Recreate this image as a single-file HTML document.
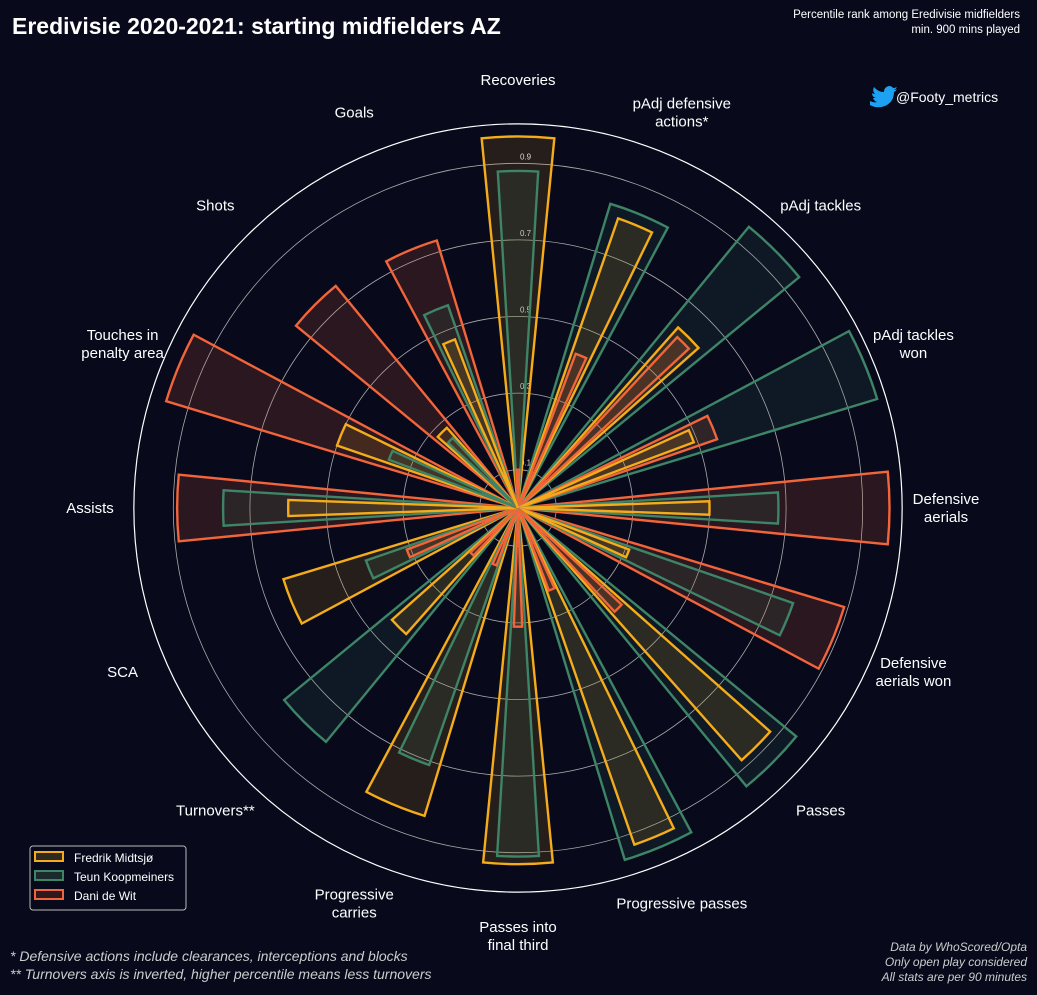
<!DOCTYPE html>
<html><head><meta charset="utf-8"><style>
body{margin:0;background:#080a1c;}
svg{display:block;font-family:"Gill Sans","Liberation Sans",sans-serif;}
</style></head><body>
<svg id="c" width="1037" height="995" viewBox="0 0 1037 995">
<rect width="1037" height="995" fill="#080a1c"/>
<text x="12" y="34" fill="#fff" font-size="23" font-weight="bold">Eredivisie 2020-2021: starting midfielders AZ</text>
<text x="1020" y="18" fill="#fff" font-size="11.5" text-anchor="end">Percentile rank among Eredivisie midfielders</text>
<text x="1020" y="33" fill="#fff" font-size="11.5" text-anchor="end">min. 900 mins played</text>
<g>
<path d="M870 101 q4 2 7 1 q-3-1-4-4 q2 0 3 0 q-4-1-4-5 q1 1 3 1 q-3-3-1-7 q4 5 10 5 q0-5 5-6 q3 0 4 2 q2 0 4-1 q-1 2-3 3 q2 0 3-1 q-1 2-3 3 q0 10-9 14 q-8 3-15-1z" fill="#1da1f2"/>
<text x="896" y="102" fill="#fff" font-size="14">@Footy_metrics</text>
</g>
<g id="grid"></g>
<g id="bars"></g>
<g id="labels"></g>
<g>
<rect x="30" y="846" width="156" height="64" rx="3" fill="#080a1c" stroke="#bbb" stroke-width="1"/>
<rect x="35" y="852" width="28" height="9" fill="#2e2a1f" stroke="#f5ac1b" stroke-width="2"/>
<text x="74" y="862" fill="#fff" font-size="12">Fredrik Midtsjø</text>
<rect x="35" y="871" width="28" height="9" fill="#1a2a2c" stroke="#3e8466" stroke-width="2"/>
<text x="74" y="881" fill="#fff" font-size="12">Teun Koopmeiners</text>
<rect x="35" y="890" width="28" height="9" fill="#2f1820" stroke="#f2643a" stroke-width="2"/>
<text x="74" y="900" fill="#fff" font-size="12">Dani de Wit</text>
</g>
<text x="10" y="961" fill="#ccc" font-size="14" font-style="italic">* Defensive actions include clearances, interceptions and blocks</text>
<text x="10" y="979" fill="#ccc" font-size="14" font-style="italic">** Turnovers axis is inverted, higher percentile means less turnovers</text>
<text x="1027" y="951" fill="#ccc" font-size="12" font-style="italic" text-anchor="end">Data by WhoScored/Opta</text>
<text x="1027" y="966" fill="#ccc" font-size="12" font-style="italic" text-anchor="end">Only open play considered</text>
<text x="1027" y="981" fill="#ccc" font-size="12" font-style="italic" text-anchor="end">All stats are per 90 minutes</text>
</svg>
<script>
const categories = [["Recoveries"],["pAdj defensive","actions*"],["pAdj tackles"],["pAdj tackles","won"],["Defensive","aerials"],["Defensive","aerials won"],["Passes"],["Progressive passes"],["Passes into","final third"],["Progressive","carries"],["Turnovers**"],["SCA"],["Assists"],["Touches in","penalty area"],["Shots"],["Goals"]];
const midtsjo = [0.97,0.80,0.63,0.49,0.50,0.31,0.88,0.93,0.93,0.84,0.44,0.64,0.60,0.50,0.28,0.47];
const koopmeiners = [0.88,0.83,0.95,0.98,0.68,0.76,0.94,0.96,0.91,0.71,0.79,0.42,0.77,0.36,0.25,0.56];
const dewit = [0.10,0.43,0.61,0.55,0.97,0.89,0.37,0.23,0.31,0.16,0.17,0.31,0.89,0.96,0.75,0.73];
const gridTicks = [0.1,0.3,0.5,0.7,0.9];
const tickLabels = ["0.1","0.3","0.5","0.7","0.9"];

const NS="http://www.w3.org/2000/svg";
const cx=518, cy=508, R=383;
const rScale=v=>v*R;
const aScale=i=>i*2*Math.PI/categories.length;
const halfByRank=[0.098,0.06,0.035];
function pt(r,a){return [cx+r*Math.sin(a), cy-r*Math.cos(a)];}
function mk(tag,attrs,parent){const e=document.createElementNS(NS,tag);for(const k in attrs)e.setAttribute(k,attrs[k]);parent.appendChild(e);return e;}
const grid=document.getElementById('grid');
gridTicks.forEach((t,i)=>{
  const c=mk('circle',{cx:cx,cy:cy,r:rScale(t),fill:'none',stroke:'#aaa','stroke-width':0.8},grid);
  
  
  const tx=mk('text',{x:cx+2,y:cy-rScale(t)-4,fill:'#ddd','font-size':8},grid);
  tx.textContent=tickLabels[i];
  
  
});
const oc=mk('circle',{cx:cx,cy:cy,r:rScale(1.003),fill:'none',stroke:'#fff','stroke-width':1.2},grid);


const bars=document.getElementById('bars');
const series=[[midtsjo,'#f5ac1b','rgba(245,172,27,0.13)','midtsjo'],[koopmeiners,'#3e8466','rgba(62,132,102,0.13)','koopmeiners'],[dewit,'#f2643a','rgba(242,100,58,0.15)','dewit']];
categories.forEach((_,i)=>{
  const order=series.map((s,k)=>k).sort((x,y)=>series[y][0][i]-series[x][0][i]);
  order.forEach((k,rank)=>{
    const [vals,col,fill,nm]=series[k];
    const a=aScale(i), r=rScale(vals[i]), half=halfByRank[rank];
    const p1=pt(r,a-half), p2=pt(r,a+half);
    const d=`M${cx},${cy} L${p1[0]},${p1[1]} A${r},${r} 0 0 1 ${p2[0]},${p2[1]} Z`;
    const b=mk('path',{d:d,fill:fill,stroke:col,'stroke-width':2.4,'stroke-linejoin':'miter'},bars);
    
    
  });
});
const labels=document.getElementById('labels');
categories.forEach((lines,i)=>{
  const a=aScale(i); const p=pt(428,a);
  const t=mk('text',{x:p[0],y:p[1]-(lines.length-1)*9+5,fill:'#fff','font-size':15,'text-anchor':'middle'},labels);
  
  
  lines.forEach((ln,j)=>{const s=mk('tspan',{x:p[0],dy:j?18:0},t);s.textContent=ln;});
});
</script>
</body></html>
